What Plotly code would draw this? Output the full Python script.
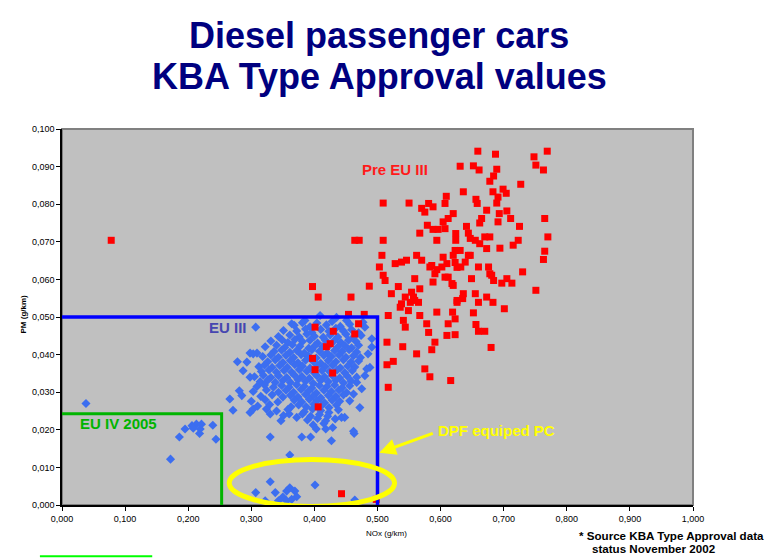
import plotly.graph_objects as go

# NOx / PM type approval values (g/km)
PRE_EU3 = [
    (0.078, 0.0704),
    (0.659, 0.0941), (0.687, 0.0933), (0.769, 0.0941), (0.748, 0.0926), (0.751, 0.0904), (0.763, 0.0891),
    (0.631, 0.0901), (0.652, 0.0902), (0.661, 0.0891), (0.689, 0.0893), (0.684, 0.0875), (0.678, 0.0861),
    (0.727, 0.0853), (0.636, 0.0833), (0.683, 0.0833), (0.699, 0.0840), (0.704, 0.0829), (0.691, 0.0819),
    (0.689, 0.0803), (0.656, 0.0813), (0.658, 0.0802), (0.673, 0.0784), (0.665, 0.0762), (0.662, 0.0750),
    (0.705, 0.0782), (0.711, 0.0762), (0.693, 0.0775), (0.691, 0.0753), (0.725, 0.0741), (0.765, 0.0762),
    (0.641, 0.0741), (0.644, 0.0723), (0.647, 0.0709), (0.655, 0.0704), (0.662, 0.0695), (0.670, 0.0713),
    (0.678, 0.0713), (0.673, 0.0682), (0.694, 0.0683), (0.723, 0.0704), (0.715, 0.0691), (0.770, 0.0713),
    (0.765, 0.0675), (0.763, 0.0653), (0.631, 0.0677), (0.644, 0.0664), (0.639, 0.0646), (0.660, 0.0633),
    (0.676, 0.0633), (0.730, 0.0620), (0.509, 0.0803), (0.550, 0.0803), (0.570, 0.0789), (0.581, 0.0802),
    (0.588, 0.0793), (0.575, 0.0779), (0.609, 0.0821), (0.607, 0.0802), (0.620, 0.0775), (0.612, 0.0762),
    (0.604, 0.0753), (0.607, 0.0735), (0.567, 0.0723), (0.579, 0.0744), (0.588, 0.0733), (0.596, 0.0733),
    (0.594, 0.0704), (0.464, 0.0704), (0.471, 0.0704), (0.509, 0.0704), (0.507, 0.0664), (0.528, 0.0642),
    (0.538, 0.0646), (0.546, 0.0651), (0.562, 0.0664), (0.570, 0.0651), (0.503, 0.0633), (0.586, 0.0637),
    (0.604, 0.0659), (0.610, 0.0642), (0.623, 0.0677), (0.624, 0.0722), (0.624, 0.0704), (0.583, 0.0633),
    (0.602, 0.0633), (0.620, 0.0664), (0.623, 0.0645), (0.626, 0.0632), (0.649, 0.0602), (0.681, 0.0611),
    (0.684, 0.0597), (0.705, 0.0602), (0.713, 0.0590), (0.697, 0.0590), (0.751, 0.0571), (0.636, 0.0562),
    (0.635, 0.0549), (0.655, 0.0562), (0.660, 0.0539), (0.673, 0.0553), (0.683, 0.0539), (0.701, 0.0522),
    (0.652, 0.0511), (0.656, 0.0480), (0.660, 0.0462), (0.670, 0.0462), (0.680, 0.0419), (0.487, 0.0582),
    (0.458, 0.0553), (0.454, 0.0507), (0.479, 0.0507), (0.470, 0.0482), (0.464, 0.0455), (0.515, 0.0433),
    (0.540, 0.0421), (0.562, 0.0402), (0.515, 0.0373), (0.525, 0.0382), (0.575, 0.0362), (0.583, 0.0341),
    (0.517, 0.0313), (0.616, 0.0331), (0.567, 0.0504), (0.594, 0.0513), (0.578, 0.0482), (0.581, 0.0459),
    (0.591, 0.0433), (0.586, 0.0413), (0.610, 0.0451), (0.623, 0.0453), (0.612, 0.0482), (0.541, 0.0491),
    (0.544, 0.0473), (0.536, 0.0526), (0.549, 0.0517), (0.522, 0.0562), (0.533, 0.0581), (0.544, 0.0553),
    (0.554, 0.0566), (0.559, 0.0602), (0.567, 0.0575), (0.559, 0.0544), (0.509, 0.0611), (0.512, 0.0597),
    (0.591, 0.0615), (0.612, 0.0606), (0.620, 0.0584), (0.626, 0.0544), (0.517, 0.0504), (0.401, 0.0473),
    (0.430, 0.0462), (0.425, 0.0429), (0.419, 0.0421), (0.397, 0.0390), (0.401, 0.0360), (0.429, 0.0351),
    (0.406, 0.0261), (0.443, 0.0030), (0.498, 0.0015), (0.397, 0.0581), (0.406, 0.0553), (0.538, 0.0535),
    (0.552, 0.0539), (0.619, 0.0513), (0.623, 0.0495), (0.588, 0.0593), (0.607, 0.0606), (0.618, 0.0589),
    (0.626, 0.0539), (0.594, 0.0626), (0.632, 0.0633), (0.647, 0.0664), (0.678, 0.0615), (0.557, 0.0553),
    (0.565, 0.0539),
]

# scattered EU III / EU IV cars, incl. the DPF cars near zero PM
EU3_SPREAD = [
    (0.038, 0.0270), (0.172, 0.0122), (0.186, 0.0181), (0.195, 0.0202), (0.206, 0.0211), (0.213, 0.0215),
    (0.219, 0.0202), (0.218, 0.0190), (0.208, 0.0204), (0.221, 0.0215), (0.239, 0.0212), (0.244, 0.0175),
    (0.361, 0.0133), (0.330, 0.0062), (0.307, 0.0033), (0.338, 0.0033), (0.350, 0.0021), (0.356, 0.0037),
    (0.361, 0.0046), (0.369, 0.0037), (0.372, 0.0022), (0.322, 0.0011), (0.401, 0.0053), (0.464, 0.0013),
    (0.343, 0.0011), (0.356, 0.0011), (0.364, 0.0015), (0.307, 0.0473), (0.364, 0.0482), (0.351, 0.0464),
    (0.385, 0.0491), (0.409, 0.0504), (0.435, 0.0499), (0.451, 0.0491), (0.477, 0.0486), (0.491, 0.0442),
    (0.480, 0.0473), (0.491, 0.0420), (0.485, 0.0402), (0.488, 0.0366), (0.483, 0.0362), (0.480, 0.0344),
    (0.475, 0.0309), (0.472, 0.0259), (0.448, 0.0233), (0.429, 0.0206), (0.427, 0.0171), (0.463, 0.0190),
    (0.418, 0.0202), (0.403, 0.0202), (0.394, 0.0181), (0.380, 0.0181), (0.372, 0.0233), (0.347, 0.0224),
    (0.360, 0.0242), (0.330, 0.0181), (0.298, 0.0404), (0.303, 0.0402), (0.309, 0.0404), (0.278, 0.0381),
    (0.293, 0.0380), (0.287, 0.0357), (0.298, 0.0340), (0.281, 0.0304), (0.266, 0.0282), (0.285, 0.0291),
    (0.271, 0.0252), (0.298, 0.0246), (0.303, 0.0255), (0.324, 0.0255), (0.330, 0.0242), (0.456, 0.0277),
    (0.462, 0.0295), (0.467, 0.0326), (0.443, 0.0233), (0.433, 0.0229), (0.462, 0.0196),
]

# dense EU III cluster
EU3_CORE = [
    (0.368, 0.0478), (0.381, 0.0485), (0.393, 0.0474), (0.404, 0.0484), (0.419, 0.0479), (0.428, 0.0488),
    (0.441, 0.0475), (0.456, 0.0481), (0.372, 0.0463), (0.386, 0.0468), (0.396, 0.0459), (0.410, 0.0467),
    (0.423, 0.0462), (0.434, 0.0470), (0.446, 0.0463), (0.459, 0.0466), (0.470, 0.0458), (0.343, 0.0448),
    (0.361, 0.0452), (0.376, 0.0447), (0.388, 0.0455), (0.400, 0.0449), (0.414, 0.0446), (0.425, 0.0452),
    (0.437, 0.0447), (0.450, 0.0454), (0.462, 0.0447), (0.474, 0.0451), (0.331, 0.0436), (0.349, 0.0439),
    (0.358, 0.0432), (0.369, 0.0440), (0.381, 0.0435), (0.393, 0.0438), (0.405, 0.0431), (0.417, 0.0439),
    (0.431, 0.0436), (0.442, 0.0432), (0.454, 0.0438), (0.466, 0.0435), (0.322, 0.0421), (0.340, 0.0425),
    (0.353, 0.0419), (0.365, 0.0426), (0.377, 0.0422), (0.391, 0.0417), (0.401, 0.0424), (0.413, 0.0421),
    (0.425, 0.0427), (0.437, 0.0420), (0.448, 0.0424), (0.459, 0.0418), (0.470, 0.0425), (0.336, 0.0408),
    (0.348, 0.0412), (0.361, 0.0406), (0.372, 0.0411), (0.384, 0.0404), (0.396, 0.0413), (0.408, 0.0409),
    (0.420, 0.0404), (0.432, 0.0411), (0.444, 0.0408), (0.455, 0.0413), (0.467, 0.0407), (0.318, 0.0395),
    (0.331, 0.0399), (0.343, 0.0393), (0.355, 0.0398), (0.367, 0.0392), (0.379, 0.0400), (0.391, 0.0396),
    (0.403, 0.0391), (0.415, 0.0398), (0.427, 0.0395), (0.439, 0.0399), (0.450, 0.0393), (0.462, 0.0397),
    (0.473, 0.0392), (0.326, 0.0381), (0.338, 0.0386), (0.350, 0.0379), (0.362, 0.0384), (0.374, 0.0378),
    (0.386, 0.0385), (0.398, 0.0382), (0.410, 0.0377), (0.422, 0.0384), (0.434, 0.0381), (0.446, 0.0386),
    (0.458, 0.0380), (0.470, 0.0383), (0.312, 0.0368), (0.321, 0.0372), (0.333, 0.0366), (0.345, 0.0371),
    (0.357, 0.0366), (0.369, 0.0373), (0.381, 0.0369), (0.393, 0.0364), (0.405, 0.0371), (0.417, 0.0368),
    (0.429, 0.0372), (0.441, 0.0365), (0.453, 0.0370), (0.464, 0.0367), (0.316, 0.0355), (0.328, 0.0359),
    (0.340, 0.0353), (0.352, 0.0358), (0.364, 0.0353), (0.376, 0.0360), (0.388, 0.0356), (0.400, 0.0351),
    (0.412, 0.0358), (0.424, 0.0355), (0.436, 0.0359), (0.448, 0.0352), (0.460, 0.0357), (0.305, 0.0341),
    (0.319, 0.0345), (0.331, 0.0339), (0.343, 0.0344), (0.356, 0.0339), (0.368, 0.0346), (0.380, 0.0342),
    (0.392, 0.0337), (0.404, 0.0344), (0.416, 0.0341), (0.428, 0.0345), (0.440, 0.0338), (0.452, 0.0343),
    (0.467, 0.0340), (0.314, 0.0328), (0.326, 0.0332), (0.338, 0.0326), (0.350, 0.0331), (0.362, 0.0326),
    (0.374, 0.0333), (0.386, 0.0329), (0.398, 0.0324), (0.410, 0.0331), (0.422, 0.0328), (0.434, 0.0332),
    (0.446, 0.0325), (0.458, 0.0330), (0.309, 0.0315), (0.321, 0.0319), (0.335, 0.0313), (0.348, 0.0318),
    (0.360, 0.0313), (0.372, 0.0320), (0.384, 0.0316), (0.396, 0.0311), (0.408, 0.0318), (0.420, 0.0315),
    (0.432, 0.0319), (0.444, 0.0312), (0.456, 0.0317), (0.303, 0.0302), (0.324, 0.0306), (0.343, 0.0300),
    (0.355, 0.0305), (0.367, 0.0300), (0.379, 0.0307), (0.391, 0.0303), (0.403, 0.0298), (0.415, 0.0305),
    (0.427, 0.0302), (0.439, 0.0306), (0.451, 0.0299), (0.315, 0.0289), (0.333, 0.0293), (0.350, 0.0287),
    (0.362, 0.0292), (0.374, 0.0287), (0.386, 0.0294), (0.398, 0.0290), (0.410, 0.0285), (0.422, 0.0292),
    (0.434, 0.0289), (0.446, 0.0293), (0.300, 0.0276), (0.322, 0.0280), (0.342, 0.0274), (0.368, 0.0279),
    (0.380, 0.0274), (0.392, 0.0281), (0.404, 0.0277), (0.416, 0.0272), (0.428, 0.0279), (0.440, 0.0276),
    (0.310, 0.0263), (0.329, 0.0267), (0.363, 0.0261), (0.375, 0.0266), (0.387, 0.0261), (0.399, 0.0268),
    (0.411, 0.0264), (0.423, 0.0259), (0.435, 0.0266), (0.340, 0.0250), (0.358, 0.0254), (0.384, 0.0248),
    (0.397, 0.0255), (0.410, 0.0251), (0.423, 0.0246), (0.438, 0.0253), (0.351, 0.0238), (0.381, 0.0242),
    (0.394, 0.0236), (0.408, 0.0241), (0.421, 0.0236), (0.389, 0.0226), (0.405, 0.0230), (0.418, 0.0224),
    (0.398, 0.0213), (0.415, 0.0217),
]

# emission limits
EU3_LIMIT_NOX = [0.0, 0.5, 0.5]
EU3_LIMIT_PM = [0.05, 0.05, 0.0]
EU4_LIMIT_NOX = [0.0, 0.253, 0.253]
EU4_LIMIT_PM = [0.0243, 0.0243, 0.0]

X_TICKS = [0.0, 0.1, 0.2, 0.3, 0.4, 0.5, 0.6, 0.7, 0.8, 0.9, 1.0]
X_LABELS = ["0,000", "0,100", "0,200", "0,300", "0,400", "0,500", "0,600", "0,700", "0,800", "0,900", "1,000"]
Y_TICKS = [0.0, 0.01, 0.02, 0.03, 0.04, 0.05, 0.06, 0.07, 0.08, 0.09, 0.1]
Y_LABELS = ["0,000", "0,010", "0,020", "0,030", "0,040", "0,050", "0,060", "0,070", "0,080", "0,090", "0,100"]

FONT = "Liberation Sans, Arial, sans-serif"
BLUE_PTS = "#3c6ef0"

blue = EU3_SPREAD + EU3_CORE

fig = go.Figure()
fig.add_trace(go.Scatter(
    x=[p[0] for p in blue], y=[p[1] for p in blue], mode="markers",
    marker=dict(symbol="diamond", size=7, color=BLUE_PTS, line=dict(width=0)),
))
fig.add_trace(go.Scatter(
    x=[p[0] for p in PRE_EU3], y=[p[1] for p in PRE_EU3], mode="markers",
    marker=dict(symbol="square", size=7, color="#ff0000", line=dict(width=0)),
))
fig.add_trace(go.Scatter(x=EU4_LIMIT_NOX, y=EU4_LIMIT_PM, mode="lines",
                         line=dict(color="#00b400", width=3)))
fig.add_trace(go.Scatter(x=EU3_LIMIT_NOX, y=EU3_LIMIT_PM, mode="lines",
                         line=dict(color="#0000ff", width=3.5)))


def paper_text(text, x, y, size, weight="normal", color="black", **kw):
    return dict(text=text, xref="paper", yref="paper", x=x, y=y, yanchor="middle", showarrow=False,
                font=dict(family=FONT, size=size, color=color, weight=weight), **kw)


def data_text(text, x, y, size, color):
    return dict(text=text, x=x, y=y, showarrow=False,
                font=dict(family=FONT, size=size, color=color, weight="bold"))


annotations = [
    paper_text("Diesel passenger cars", 0.503, 1.250, 36, "bold", "#00007f"),
    paper_text("KBA Type Approval values", 0.503, 1.139, 36, "bold", "#00007f"),
    data_text("Pre EU III", 0.528, 0.0893, 15, "#ff1a1a"),
    data_text("EU III", 0.263, 0.0472, 15, "#4646b0"),
    data_text("EU IV 2005", 0.090, 0.0216, 15, "#00b400"),
    data_text("DPF equiped PC", 0.689, 0.0197, 15, "#ffff00"),
    dict(text="", x=0.503, y=0.0139, ax=0.590, ay=0.0192, axref="x", ayref="y",
         showarrow=True, arrowhead=2, arrowsize=1.1, arrowwidth=3, arrowcolor="#ffff00"),
    paper_text("NOx (g/km)", 0.515, -0.075, 8),
    paper_text("PM (g/km)", -0.0713, 0.508, 8, "bold", textangle=-90),
    paper_text("* Source KBA Type Approval data", 0.816, -0.080, 11.6, "bold", xanchor="left"),
    paper_text("status November 2002", 0.836, -0.117, 11.6, "bold", xanchor="left"),
]

shapes = [
    dict(type="rect", xref="paper", yref="paper", x0=0, x1=1, y0=0, y1=1,
         line=dict(color="#808080", width=2), layer="below"),
    dict(type="circle", xref="x", yref="y", x0=0.265, x1=0.527, y0=-0.0004, y1=0.0121,
         line=dict(color="#ffff00", width=5)),
    dict(type="line", xref="paper", yref="paper", x0=-0.035, x1=0.143, y0=-0.136, y1=-0.136,
         line=dict(color="#00ff00", width=2)),
]

# the page keeps an 8px body margin, so the figure is 8px smaller each way
fig.update_layout(
    width=765, height=551,
    margin=dict(l=54, r=80, t=121, b=54),
    plot_bgcolor="#c0c0c0", paper_bgcolor="#ffffff",
    showlegend=False,
    font=dict(family=FONT, color="black"),
    annotations=annotations,
    shapes=shapes,
)
fig.update_xaxes(range=[0, 1], tickvals=X_TICKS, ticktext=X_LABELS, tickfont=dict(size=9),
                 ticks="outside", ticklen=4, tickcolor="black", showline=True, linecolor="black",
                 linewidth=1.5, showgrid=False, zeroline=False)
fig.update_yaxes(range=[0, 0.1], tickvals=Y_TICKS, ticktext=Y_LABELS, tickfont=dict(size=9),
                 ticks="outside", ticklen=4, tickcolor="black", showline=True, linecolor="black",
                 linewidth=1.5, showgrid=False, zeroline=False)

fig.write_html("out.html")
